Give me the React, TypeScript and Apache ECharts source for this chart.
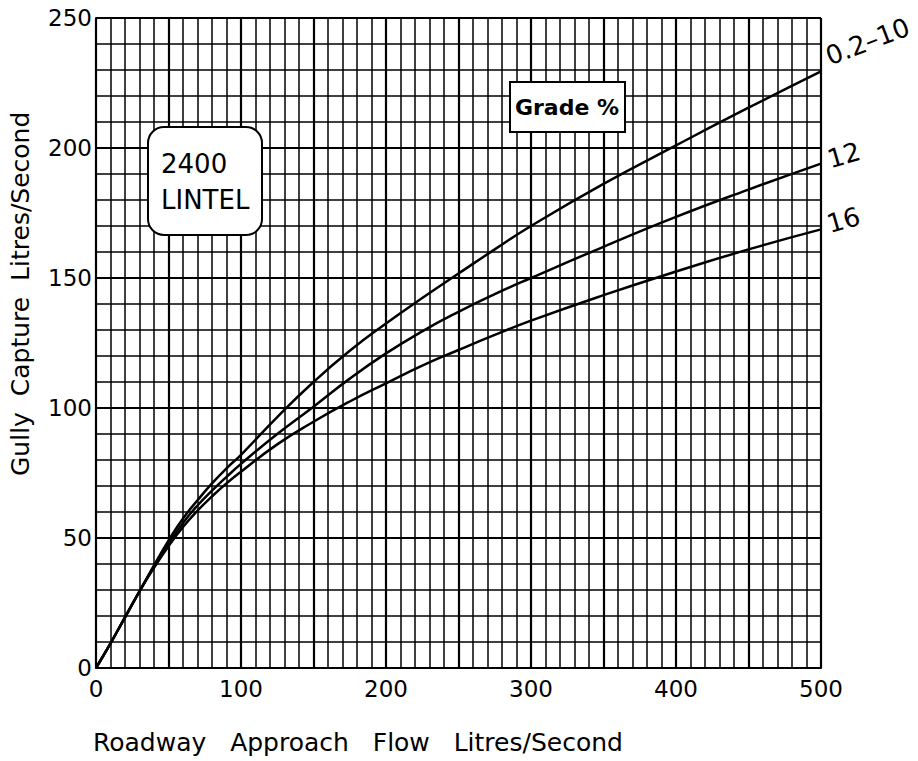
import React, { useEffect, useRef } from "react";
import * as echarts from "echarts";

const flow = [0, 10, 20, 30, 40, 50, 60, 70, 80, 90, 100, 125, 150, 175, 200, 225, 250, 275, 300, 350, 400, 450, 500];
const grade0210 = [0, 9.5, 19.5, 29.5, 39.5, 49, 57.5, 64.5, 71, 76.8, 82, 96.5, 110, 122, 132.5, 142.3, 151.7, 161, 170, 186.2, 201, 215.5, 229.5];
const grade12 = [0, 9.5, 19.5, 29.5, 39, 47.8, 55.8, 62.5, 68.2, 73.5, 78.5, 90, 100.5, 111.3, 121, 129.5, 137, 143.8, 150, 162, 173.5, 184, 194];
const grade16 = [0, 9.5, 19.5, 29.5, 38.5, 46.8, 54.2, 60.5, 66, 71, 75.5, 86, 94.7, 102.5, 109.5, 116.3, 122.3, 128.1, 133.6, 143.4, 152.5, 161, 168.7];
const seriesNames = ["0.2–10", "12", "16"];
const xTitle = "Roadway   Approach   Flow   Litres/Second";
const yTitle = "Gully  Capture  Litres/Second";

const FONT = "DejaVu Sans";

export default function App() {
  const ref = useRef<HTMLDivElement>(null);
  useEffect(() => {
    if (!ref.current) return;
    const chart = echarts.init(ref.current, null, { renderer: "svg" });
    const mk = (name: string, vals: number[], rot: number, off: number[], fs: number) => ({
      name,
      type: "line",
      smooth: 0.5,
      showSymbol: false,
      data: flow.map((x, i) => [x, vals[i]]),
      lineStyle: { color: "#000", width: 2.5 },
      z: 5,
      endLabel: {
        show: true,
        formatter: name,
        color: "#000",
        fontFamily: FONT,
        fontSize: fs,
        rotate: rot,
        offset: off,
      },
    });
    chart.setOption({
      animation: false,
      backgroundColor: "#fff",
      grid: { left: 96, right: 97, top: 18, bottom: 93, containLabel: false },
      xAxis: {
        type: "value",
        min: 0,
        max: 500,
        interval: 50,
        axisLine: { show: true, lineStyle: { color: "#000", width: 2 } },
        axisTick: { show: false },
        axisLabel: {
          formatter: (v: number) => (v % 100 === 0 ? String(v) : ""),
          color: "#000",
          fontFamily: FONT,
          fontSize: 23,
          margin: 9,
        },
        splitLine: { show: true, lineStyle: { color: "#000", width: 2.2 } },
        minorTick: { show: false, splitNumber: 5 },
        minorSplitLine: { show: true, lineStyle: { color: "#000", width: 1.5 } },
      },
      yAxis: {
        type: "value",
        min: 0,
        max: 250,
        interval: 50,
        axisLine: { show: true, lineStyle: { color: "#000", width: 2 } },
        axisTick: { show: false },
        axisLabel: {
          color: "#000",
          fontFamily: FONT,
          fontSize: 23,
          margin: 4,
        },
        splitLine: { show: true, lineStyle: { color: "#000", width: 2.2 } },
        minorTick: { show: false, splitNumber: 5 },
        minorSplitLine: { show: true, lineStyle: { color: "#000", width: 1.5 } },
      },
      series: [
        mk(seriesNames[0], grade0210, 21, [3, -14], 26),
        mk(seriesNames[1], grade12, 16, [0, -4], 26),
        mk(seriesNames[2], grade16, 16, [0, -5], 26),
      ],
      graphic: [
        {
          type: "text",
          left: 93,
          top: 730,
          style: { text: xTitle, fill: "#000", font: `25px "${FONT}"` },
        },
        {
          type: "text",
          x: 8,
          y: 476,
          rotation: Math.PI / 2,
          style: { text: yTitle, fill: "#000", font: `25px "${FONT}"`, align: "left", verticalAlign: "top" },
        },
        {
          type: "group",
          z: 20,
          children: [
            {
              type: "rect",
              shape: { x: 148, y: 127, width: 114, height: 108, r: 16 },
              style: { fill: "#fff", stroke: "#000", lineWidth: 2 },
              z: 20,
            },
            {
              type: "text",
              x: 161,
              y: 164,
              style: { text: "2400", fill: "#000", font: `26px "${FONT}"`, align: "left", verticalAlign: "middle" },
              z: 21,
            },
            {
              type: "text",
              x: 161,
              y: 200,
              style: { text: "LINTEL", fill: "#000", font: `26px "${FONT}"`, align: "left", verticalAlign: "middle" },
              z: 21,
            },
            {
              type: "rect",
              shape: { x: 510, y: 82, width: 115, height: 50 },
              style: { fill: "#fff", stroke: "#000", lineWidth: 2 },
              z: 20,
            },
            {
              type: "text",
              x: 567,
              y: 107,
              style: { text: "Grade %", fill: "#000", font: `bold 22px "${FONT}"`, align: "center", verticalAlign: "middle" },
              z: 21,
            },
          ],
        },
      ],
    });
    return () => chart.dispose();
  }, []);
  return <div ref={ref} style={{ width: 918, height: 761, position: "absolute", left: 0, top: 0 }} />;
}
